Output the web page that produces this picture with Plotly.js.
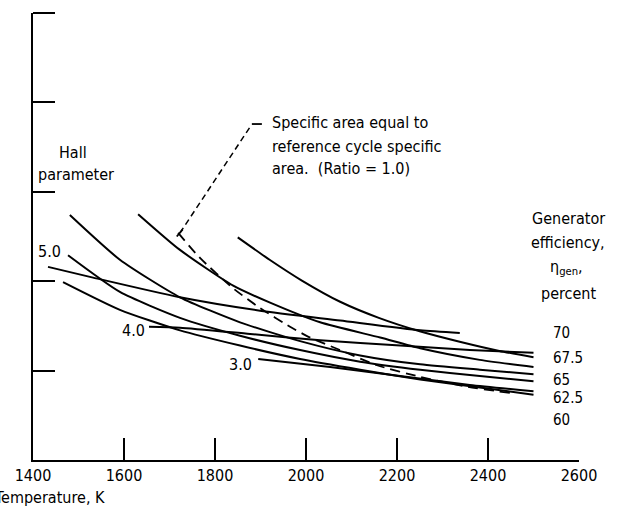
<!DOCTYPE html>
<html>
<head>
<meta charset="utf-8">
<script src="https://cdn.plot.ly/plotly-3.0.1.min.js"></script>
<style>html,body{margin:0;padding:0;background:#fff;}#chart{width:622px;height:508px;}</style>
</head>
<body>
<div id="chart"></div>
<script>
// Temperature (K) and unlabeled ordinate values
// Generator-efficiency curves
var eff70T = [1850, 1920, 1990, 2075, 2160, 2250, 2340, 2425, 2500];
var eff70Y = [2.49, 2.24, 2.01, 1.77, 1.59, 1.44, 1.32, 1.22, 1.15];
var eff675T = [1631, 1723, 1840, 1921, 2031, 2163, 2251, 2382, 2500];
var eff675Y = [2.75, 2.35, 1.95, 1.76, 1.54, 1.37, 1.25, 1.12, 1.04];
var eff65T = [1481, 1591, 1723, 1855, 1987, 2119, 2251, 2382, 2500];
var eff65Y = [2.74, 2.24, 1.82, 1.54, 1.33, 1.17, 1.07, 1.01, 0.96];
var eff625T = [1477, 1591, 1723, 1855, 1987, 2119, 2251, 2382, 2500];
var eff625Y = [2.29, 1.88, 1.59, 1.39, 1.23, 1.10, 1.01, 0.94, 0.88];
var eff60T = [1466, 1591, 1723, 1855, 1987, 2119, 2251, 2382, 2500];
var eff60Y = [1.99, 1.68, 1.45, 1.28, 1.13, 1.01, 0.90, 0.81, 0.73];
// Hall-parameter lines
var hall5T = [1433, 1532, 1723, 1899, 2075, 2251, 2338];
var hall5Y = [2.16, 2.04, 1.82, 1.67, 1.56, 1.45, 1.42];
var hall4T = [1655, 1723, 1877, 2031, 2207, 2360, 2500];
var hall4Y = [1.49, 1.48, 1.41, 1.34, 1.28, 1.23, 1.20];
var hall3T = [1895, 2053, 2207, 2360, 2500];
var hall3Y = [1.13, 1.04, 0.94, 0.84, 0.77];
// Specific area ratio = 1.0 (dashed)
var ratioT = [1719, 1767, 1840, 1899, 1965, 2009, 2075, 2156, 2251, 2354, 2448];
var ratioY = [2.54, 2.26, 1.92, 1.70, 1.49, 1.37, 1.23, 1.06, 0.93, 0.82, 0.75];
// Tick labels
var xTicks = [1400, 1600, 1800, 2000, 2200, 2400, 2600];
var yTicks = [0, 1, 2, 3, 4, 5];
var effLabels = ["70", "67.5", "65", "62.5", "60"];
var effLabelY = [1.42, 1.14, 0.895, 0.694, 0.447];
var hallLabels = ["5.0", "4.0", "3.0"];
var hallLabelT = [1437, 1620, 1857];
var hallLabelY = [2.33, 1.454, 1.063];

var FONT = "'Liberation Sans Narrow', 'DejaVu Sans Condensed', 'DejaVu Sans', sans-serif";
function tr(x, y, dash) {
  return {x: x, y: y, mode: 'lines', type: 'scatter', hoverinfo: 'skip',
          line: dash ? {color: '#000', width: 1.8, dash: '10px,6px', shape: 'spline', smoothing: 0.6}
                     : {color: '#000', width: 2, shape: 'spline', smoothing: 0.6}};
}
var traces = [
  tr(eff70T, eff70Y), tr(eff675T, eff675Y), tr(eff65T, eff65Y),
  tr(eff625T, eff625Y), tr(eff60T, eff60Y),
  tr(hall5T, hall5Y), tr(hall4T, hall4Y), tr(hall3T, hall3Y),
  tr(ratioT, ratioY, true)
];

var ann = [];
function txt(x, y, s, xa, size, ref) {
  ann.push({x: x, y: y, xref: ref || 'x', yref: ref || 'y', text: s, showarrow: false,
            xanchor: xa || 'center', yanchor: 'middle',
            font: {family: FONT, size: size || 16, color: '#000'}});
}
txt(1488, 3.445, 'Hall');
txt(1495, 3.19, 'parameter');
for (var i = 0; i < hallLabels.length; i++) txt(hallLabelT[i], hallLabelY[i], hallLabels[i]);
txt(1921, 3.77, 'Specific area equal to', 'left');
txt(1921, 3.512, 'reference cycle specific', 'left');
txt(1921, 3.266, 'area.  (Ratio = 1.0)', 'left');
txt(2576, 2.696, 'Generator');
txt(2576, 2.438, 'efficiency,');
txt(2572, 2.148, 'η<sub>gen</sub>,');
txt(2576, 1.868, 'percent');
for (var j = 0; j < effLabels.length; j++) txt(2538, effLabelY[j], effLabels[j], 'left', 15);
ann.push({x: 0.1355, y: -0.083, xref: 'paper', yref: 'paper', text: 'Temperature, K',
          showarrow: false, xanchor: 'right', yanchor: 'middle',
          font: {family: FONT, size: 16, color: '#000'}});

var shapes = [
  {type: 'line', xref: 'x', yref: 'y', x0: 1723, y0: 2.54, x1: 1877, y1: 3.725,
   line: {color: '#000', width: 1.5, dash: '6px,4px'}},
  {type: 'line', xref: 'x', yref: 'y', x0: 1881, y0: 3.758, x1: 1903, y1: 3.758,
   line: {color: '#000', width: 1.8}},
  {type: 'line', xref: 'x', yref: 'y', x0: 1729, y0: 2.58, x1: 1716, y1: 2.50,
   line: {color: '#000', width: 1.8}},
  // top end tick of the ordinate axis
  {type: 'line', xref: 'paper', yref: 'paper', x0: 0, y0: 1, x1: 0.0403, y1: 1,
   line: {color: '#000', width: 2}}
];

var layout = {
  width: 622, height: 508,
  margin: {l: 33, r: 43, t: 13, b: 48, pad: 0},
  paper_bgcolor: '#fff', plot_bgcolor: '#fff',
  showlegend: false,
  font: {family: FONT, size: 16, color: '#000'},
  xaxis: {range: [1400, 2600], tickvals: xTicks, ticktext: xTicks.map(String),
          ticks: 'inside', ticklen: 22, tickwidth: 2, tickcolor: '#000',
          showline: true, linewidth: 2, linecolor: '#000',
          showgrid: false, zeroline: false, fixedrange: true,
          tickfont: {family: FONT, size: 16, color: '#000'}},
  yaxis: {range: [0, 5], tickvals: yTicks, showticklabels: false,
          ticks: 'inside', ticklen: 22, tickwidth: 2, tickcolor: '#000',
          showline: true, linewidth: 2, linecolor: '#000',
          showgrid: false, zeroline: false, fixedrange: true},
  annotations: ann,
  shapes: shapes
};
Plotly.newPlot('chart', traces, layout, {displayModeBar: false, staticPlot: true});
</script>
</body>
</html>
